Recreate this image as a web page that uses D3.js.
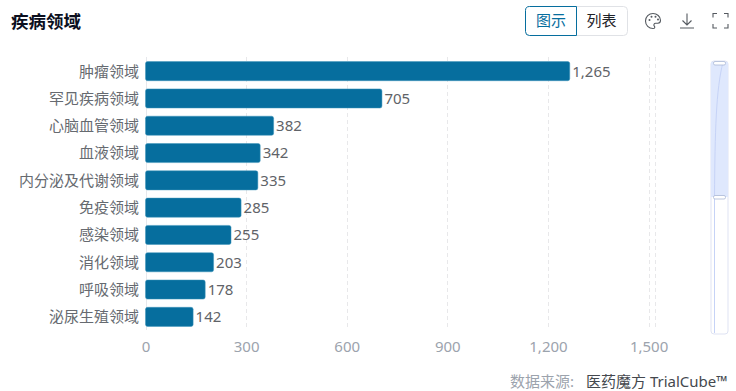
<!DOCTYPE html>
<html><head><meta charset="utf-8">
<script src="https://cdn.jsdelivr.net/npm/d3@7/dist/d3.min.js"></script>
<style>html,body{margin:0;padding:0;background:#fff;overflow:hidden}svg{display:block}
text{font-family:"Noto Sans","Noto Sans CJK SC",sans-serif}</style></head>
<body><svg id="c" width="736" height="391"></svg>
<script>
const categories = ["肿瘤领域","罕见疾病领域","心脑血管领域","血液领域","内分泌及代谢领域","免疫领域","感染领域","消化领域","呼吸领域","泌尿生殖领域"];
const values = [1265,705,382,342,335,285,255,203,178,142];
const xTicks = [0,300,600,900,1200,1500];
const xMax = 1518;
const title = "疾病领域";
const toggleLabels = ["图示","列表"];
const sourceLabel = "数据来源:";
const sourceName = "医药魔方 TrialCube™";
const blue = "#066e9e";

const svg = d3.select("#c");
const x = d3.scaleLinear().domain([0,xMax]).range([145.5,654.6]);
const y = d3.scaleBand().domain(categories).range([57.5,330.5]).paddingInner(0.3).paddingOuter(0.15);

svg.append("text").attr("x",11).attr("y",28).attr("font-size",17.5).attr("font-weight",700).attr("fill","#0b0f1e").text(title);

svg.append("g").selectAll("line").data([...xTicks,xMax]).join("line")
  .attr("x1",d=>Math.round(x(d))+0.5).attr("x2",d=>Math.round(x(d))+0.5).attr("y1",57).attr("y2",330)
  .attr("stroke",d=>d===0?"#e6e8ec":"#e8e8ea").attr("stroke-dasharray",d=>d===0?null:"4 3");

const ax = svg.append("g").attr("transform","translate(0,347)").call(
  d3.axisBottom(x).tickValues(xTicks).tickSize(0).tickPadding(0).tickFormat(d3.format(",")));
ax.select(".domain").remove();
ax.selectAll("text").attr("font-size",15).attr("fill","#9ca3ad").attr("dy","0.36em").attr("y",0).attr("font-family",'"Noto Sans",sans-serif');

svg.append("g").selectAll("rect").data(values).join("rect")
  .attr("x",x(0)).attr("y",(d,i)=>y(categories[i]))
  .attr("width",d=>x(d)-x(0)).attr("height",y.bandwidth()).attr("rx",2)
  .attr("fill",blue).attr("stroke","#3f95bb").attr("stroke-width",0.5);

svg.append("g").selectAll("text").data(categories).join("text")
  .attr("x",139).attr("y",d=>y(d)+y.bandwidth()/2).attr("dy","0.36em")
  .attr("text-anchor","end").attr("font-size",15).attr("fill","#666a70").text(d=>d);

svg.append("g").selectAll("text").data(values).join("text")
  .attr("x",d=>x(d)+2.5).attr("y",(d,i)=>y(categories[i])+y.bandwidth()/2).attr("dy","0.36em")
  .attr("font-size",15).attr("fill","#5f6368").text(d3.format(","));

const t = svg.append("g");
t.append("rect").attr("x",525.5).attr("y",6.5).attr("width",102).attr("height",29).attr("rx",4).attr("fill","#fff").attr("stroke","#e0e2e6");
t.append("path").attr("d","M576.5 6.5H529.5a4 4 0 0 0-4 4V31.5a4 4 0 0 0 4 4H576.5Z").attr("fill","#fff").attr("stroke",blue);
t.selectAll("text").data(toggleLabels).join("text")
  .attr("x",(d,i)=>i?601.5:551).attr("y",26).attr("text-anchor","middle").attr("font-size",15)
  .attr("fill",(d,i)=>i?"#1f2329":blue).text(d=>d);

const ic = svg.append("g").attr("fill","none").attr("stroke","#555a60").attr("stroke-width",1.1);
ic.append("path").attr("d","M653 13.5a7.5 7.5 0 1 0 0 15c2.2 0 2-1.6 1.2-2.6c-.9-1.2 0-2.6 1.4-2.6h2.2c1.6 0 2.7-1.2 2.7-3c0-3.8-3.5-6.8-7.5-6.8Z");
ic.append("g").attr("fill","#555a60").attr("stroke","none").selectAll("circle")
  .data([[649.5,20],[651.5,16.8],[655.5,16.8],[658,19.6]]).join("circle")
  .attr("cx",d=>d[0]).attr("cy",d=>d[1]).attr("r",1);
ic.append("path").attr("d","M687 13.5V24.5M682.5 20.5L687 25L691.5 20.5M680 28H694");
ic.append("path").attr("d","M713 17.5V13.5H717M724 13.5H728V17.5M728 24V28H724M717 28H713V24");

const s = svg.append("g");
s.append("rect").attr("x",711).attr("y",61).attr("width",17).attr("height",273).attr("rx",3).attr("fill","#fff").attr("stroke","#dfe3f3");
s.append("rect").attr("x",711).attr("y",62).attr("width",17).attr("height",135).attr("fill","#dfe8fd");
s.append("path").attr("d","M723 62C716 90 715 130 714.5 197V333").attr("fill","none").attr("stroke","#c6d3f7").attr("stroke-width",1);
s.append("g").selectAll("rect").data([61.5,195.5]).join("rect")
  .attr("x",713.5).attr("y",d=>d).attr("width",12).attr("height",3.5).attr("rx",1.5)
  .attr("fill","#fff").attr("stroke","#a9b7d6").attr("stroke-width",0.8);

svg.append("text").attr("x",510).attr("y",387).attr("font-size",15).attr("fill","#9ca3ad").text(sourceLabel);
svg.append("text").attr("x",586).attr("y",387).attr("font-size",15).attr("fill","#44484e").text(sourceName);
</script></body></html>
